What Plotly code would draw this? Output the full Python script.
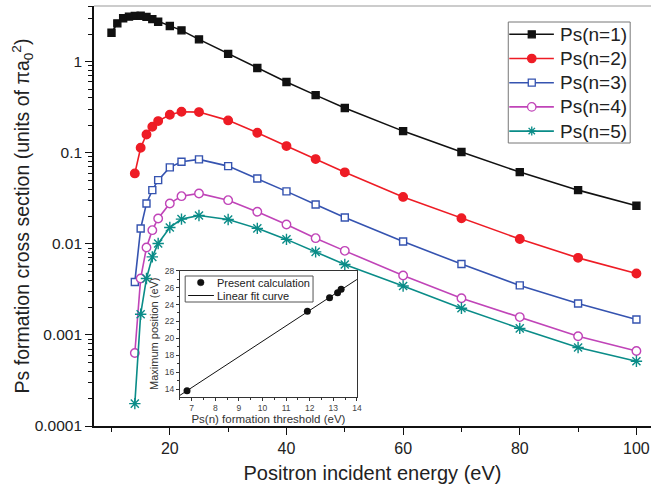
import numpy as np
import plotly.graph_objects as go

# ---------------- data ----------------
energy_n1 = [10, 11, 12, 13, 14, 15, 16, 17, 18, 20, 22, 25, 30, 35, 40, 45, 50, 60, 70, 80, 90, 100]
energy_n2to5 = [14, 15, 16, 17, 18, 20, 22, 25, 30, 35, 40, 45, 50, 60, 70, 80, 90, 100]

sigma_n1 = [2.08, 2.64, 3.00, 3.13, 3.19, 3.20, 3.11, 2.94, 2.75, 2.47, 2.21, 1.76,
            1.22, 0.853, 0.598, 0.43, 0.31, 0.173, 0.102, 0.0614, 0.0389, 0.0262]
sigma_n2 = [0.0594, 0.1135, 0.159, 0.193, 0.223, 0.262, 0.282, 0.280, 0.227, 0.166,
            0.1185, 0.0853, 0.061, 0.0328, 0.0191, 0.0113, 0.00702, 0.00473]
sigma_n3 = [0.00382, 0.01476, 0.0278, 0.0389, 0.0501, 0.0692, 0.0796, 0.0846, 0.0714, 0.0523,
            0.0377, 0.0271, 0.0195, 0.0106, 0.0060, 0.0035, 0.00221, 0.00148]
sigma_n4 = [0.000634, 0.00417, 0.00912, 0.01415, 0.0190, 0.0278, 0.0334, 0.0358, 0.0302, 0.0225,
            0.0163, 0.01155, 0.00838, 0.0045, 0.00253, 0.00157, 0.000968, 0.000667]
sigma_n5 = [0.000176, 0.00169, 0.00417, 0.0072, 0.0101, 0.0151, 0.0187, 0.0205, 0.0185, 0.0148,
            0.0112, 0.00817, 0.00594, 0.00345, 0.00196, 0.00118, 0.000727, 0.000514]

series_names = ["Ps(n=1)", "Ps(n=2)", "Ps(n=3)", "Ps(n=4)", "Ps(n=5)"]

# inset data
threshold = [6.8, 11.9, 12.84, 13.18, 13.33]
max_position = [13.8, 23.2, 24.8, 25.4, 25.8]
inset_names = ["Present calculation", "Linear fit curve"]

y_tickvals = [1, 0.1, 0.01, 0.001, 0.0001]
y_ticktext = ["1", "0.1", "0.01", "0.001", "0.0001"]
x_tickvals = [20, 40, 60, 80, 100]

# ---------------- styling ----------------
colors = ["#111111", "#ee1c25", "#3553b0", "#c044b8", "#0a8c88"]
symbols = ["square", "circle", "square", "circle", "asterisk-open"]
fills = ["#111111", "#ee1c25", "white", "white", "#0a8c88"]
msizes = [7, 8.5, 7, 8.5, 9.5]
FONT = "Liberation Sans, Arial, sans-serif"

W, H = 656, 491
ML, MR, MT, MB = 94, 0, 6, 65
PW, PH = W - ML - MR, H - MT - MB


def px_x(px):
    return (px - ML) / PW


def px_y(py):
    return (H - MB - py) / PH


fig = go.Figure()

xs = [energy_n1, energy_n2to5, energy_n2to5, energy_n2to5, energy_n2to5]
ys = [sigma_n1, sigma_n2, sigma_n3, sigma_n4, sigma_n5]
for i in range(5):
    fig.add_trace(go.Scatter(
        x=xs[i], y=ys[i], name=series_names[i], mode="lines+markers",
        line=dict(color=colors[i], width=1.6),
        marker=dict(symbol=symbols[i], size=msizes[i], color=fills[i],
                    line=dict(color=colors[i], width=1.4)),
        xaxis="x", yaxis="y", showlegend=False,
    ))

# inset
coef = np.polyfit(threshold, max_position, 1)
fit_x = np.array([6.5, 14.0])
fit_y = np.polyval(coef, fit_x)

fig.add_trace(go.Scatter(
    x=threshold, y=max_position, mode="markers", name=inset_names[0],
    marker=dict(symbol="circle", size=7, color="#111111"),
    xaxis="x2", yaxis="y2", showlegend=False,
))
fig.add_trace(go.Scatter(
    x=fit_x, y=fit_y, mode="lines", name=inset_names[1],
    line=dict(color="#111111", width=1),
    xaxis="x2", yaxis="y2", showlegend=False,
))

shapes = [dict(type="line", xref="paper", yref="paper", x0=0, x1=1, y0=1, y1=1,
               line=dict(color="#999", width=1.2))]
annotations = []

# ---- main legend (drawn as layout decoration) ----
shapes.append(dict(type="rect", xref="paper", yref="paper",
                   x0=px_x(512), x1=px_x(635), y0=px_y(143), y1=px_y(22),
                   line=dict(color="#777", width=1), fillcolor="white"))
for i in range(5):
    ry = 34.3 + 24.2 * i
    shapes.append(dict(type="line", xref="paper", yref="paper",
                       x0=px_x(513), x1=px_x(558), y0=px_y(ry), y1=px_y(ry),
                       line=dict(color=colors[i], width=1.6)))
    base = dict(xref="paper", yref="paper", xsizemode="pixel", ysizemode="pixel",
                xanchor=px_x(535.7), yanchor=px_y(ry))
    if i in (0, 2):
        shapes.append(dict(type="rect", x0=-3.5, x1=3.5, y0=-3.5, y1=3.5,
                           fillcolor=fills[i], line=dict(color=colors[i], width=1.3), **base))
    elif i in (1, 3):
        shapes.append(dict(type="circle", x0=-4.2, x1=4.2, y0=-4.2, y1=4.2,
                           fillcolor=fills[i], line=dict(color=colors[i], width=1.3), **base))
    else:
        shapes.append(dict(type="path",
                           path="M-4.5,0L4.5,0M0,-4.5L0,4.5M-3.2,-3.2L3.2,3.2M-3.2,3.2L3.2,-3.2",
                           line=dict(color=colors[i], width=1.3), **base))
    annotations.append(dict(xref="paper", yref="paper", x=px_x(562), y=px_y(ry),
                            xanchor="left", yanchor="middle", showarrow=False,
                            text=series_names[i], font=dict(size=19, color="#222")))

# ---- inset legend ----
shapes.append(dict(type="rect", xref="paper", yref="paper",
                   x0=px_x(186), x1=px_x(315), y0=px_y(302), y1=px_y(276),
                   line=dict(color="#555", width=1), fillcolor="white"))
shapes.append(dict(type="circle", xref="paper", yref="paper", xsizemode="pixel", ysizemode="pixel",
                   xanchor=px_x(201.7), yanchor=px_y(282.5), x0=-3.3, x1=3.3, y0=-3.3, y1=3.3,
                   fillcolor="#111", line=dict(color="#111", width=0.5)))
shapes.append(dict(type="line", xref="paper", yref="paper",
                   x0=px_x(189), x1=px_x(215), y0=px_y(295.5), y1=px_y(295.5),
                   line=dict(color="#111", width=1)))
for k, ry in enumerate([282.5, 295.5]):
    annotations.append(dict(xref="paper", yref="paper", x=px_x(216), y=px_y(ry),
                            xanchor="left", yanchor="middle", showarrow=False,
                            text=inset_names[k], font=dict(size=11, color="#222")))

fig.update_layout(
    width=W, height=H,
    margin=dict(l=ML, r=MR, t=MT, b=MB),
    paper_bgcolor="white", plot_bgcolor="white",
    font=dict(family=FONT, color="#222222"),
    showlegend=False,
    xaxis=dict(
        range=[7, 102.5], domain=[0, 1],
        tickvals=x_tickvals, ticks="outside", ticklen=7, tickwidth=1.3, tickcolor="#111",
        tickfont=dict(size=16, color="#222"),
        minor=dict(dtick=10, tick0=0, ticks="outside", ticklen=4, tickwidth=1.2, tickcolor="#111"),
        showline=True, linecolor="#111", linewidth=1.6, showgrid=False, zeroline=False,
        title=dict(text="Positron incident energy (eV)", font=dict(size=20, color="#222"), standoff=10),
    ),
    yaxis=dict(
        type="log", range=[-4, 0.612], domain=[0, 1],
        tickvals=y_tickvals, ticktext=y_ticktext,
        ticks="outside", ticklen=7, tickwidth=1.3, tickcolor="#111",
        tickfont=dict(size=15.5, color="#222"),
        minor=dict(dtick="D1", ticks="outside", ticklen=4, tickwidth=1.1, tickcolor="#111"),
        showline=True, linecolor="#111", linewidth=1.6, showgrid=False, zeroline=False,
        title=dict(text="Ps formation cross section (units of πa<sub>0</sub><sup>2</sup>)",
                   font=dict(size=19.5, color="#222"), standoff=0),
    ),
    xaxis2=dict(
        domain=[px_x(180.7), px_x(359.3)], anchor="y2", range=[6.5, 14],
        dtick=1, ticks="outside", ticklen=3, tickwidth=1, tickcolor="#333",
        tickfont=dict(size=8.5, color="#444"),
        minor=dict(dtick=0.5, ticks="outside", ticklen=2, tickcolor="#333"),
        showline=True, mirror=True, linecolor="#333", linewidth=1, showgrid=False, zeroline=False,
        title=dict(text="Ps(n) formation threshold (eV)", font=dict(size=11.5, color="#333"), standoff=2),
    ),
    yaxis2=dict(
        domain=[px_y(396.7), px_y(270.7)], anchor="x2", range=[13.1, 28],
        dtick=2, tick0=14, ticks="outside", ticklen=3, tickwidth=1, tickcolor="#333",
        tickfont=dict(size=8.5, color="#444"),
        minor=dict(dtick=1, ticks="outside", ticklen=2, tickcolor="#333"),
        showline=True, mirror=True, linecolor="#333", linewidth=1, showgrid=False, zeroline=False,
        title=dict(text="Maximum position (eV)", font=dict(size=11, color="#333"), standoff=3),
    ),
    shapes=shapes,
    annotations=annotations,
)

fig.write_html("out.html")
